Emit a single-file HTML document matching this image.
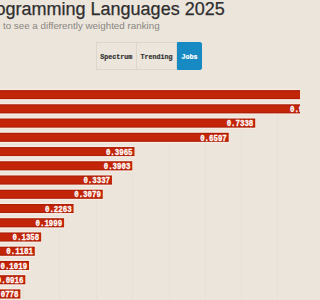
<!DOCTYPE html>
<html><head><meta charset="utf-8">
<style>
html,body{margin:0;padding:0;}
body{width:300px;height:300px;overflow:hidden;position:relative;background:#ebe5dc;font-family:"Liberation Sans",sans-serif;}
.title{position:absolute;right:75.3px;top:-2px;font-size:18px;color:#2e2e2e;-webkit-text-stroke:0.25px #2e2e2e;white-space:nowrap;line-height:22px;}
.sub{position:absolute;right:140.4px;top:20.2px;font-size:9.8px;color:#8a8680;white-space:nowrap;line-height:12px;}
.btns{position:absolute;left:95.5px;top:42px;height:28px;display:flex;}
.btn{font-family:"Liberation Mono",monospace;font-weight:bold;font-size:6.7px;color:#333;-webkit-text-stroke:0.2px currentColor;border:1px solid #ddd6cb;display:flex;align-items:center;justify-content:center;box-sizing:border-box;height:28px;padding-top:1px;}
.b1{width:41.5px;}
.b2{width:40px;border-left:none;}
.b3{width:25px;background:#178ac4;color:#fff;border-color:#178ac4;border-radius:0 2px 2px 0;}
svg{position:absolute;left:0;top:0;}
.lb{position:absolute;height:9px;line-height:9px;font-family:"Liberation Mono",monospace;font-weight:bold;font-size:7.4px;color:#fff;transform:scaleY(1.15);-webkit-text-stroke:0.25px #fff;white-space:nowrap;}
</style></head><body>
<div class="title">Top Programming Languages 2025</div>
<div class="sub">Click a button to see a differently weighted ranking</div>
<div class="btns"><div class="btn b1">Spectrum</div><div class="btn b2">Trending</div><div class="btn b3">Jobs</div></div>
<svg width="300" height="300" viewBox="0 0 300 300"><g stroke="rgba(60,40,20,0.022)" stroke-width="1"><line x1="23.5" y1="285.72" x2="23.5" y2="300"/><line x1="59.5" y1="228.76" x2="59.5" y2="300"/><line x1="96.5" y1="200.28" x2="96.5" y2="300"/><line x1="132.5" y1="171.80" x2="132.5" y2="300"/><line x1="169.5" y1="143.32" x2="169.5" y2="300"/><line x1="205.5" y1="143.32" x2="205.5" y2="300"/><line x1="241.5" y1="129.08" x2="241.5" y2="300"/><line x1="277.5" y1="114.84" x2="277.5" y2="300"/></g><g fill="rgba(255,238,228,0.75)"><rect x="-30" y="88.80" width="381.50" height="1.3"/><rect x="-30" y="99.10" width="381.50" height="1.3"/><rect x="-30" y="103.04" width="349.50" height="1.3"/><rect x="-30" y="113.34" width="349.50" height="1.3"/><rect x="-30" y="117.28" width="286.20" height="1.3"/><rect x="-30" y="127.58" width="286.20" height="1.3"/><rect x="-30" y="131.52" width="259.67" height="1.3"/><rect x="-30" y="141.82" width="259.67" height="1.3"/><rect x="-30" y="145.76" width="165.45" height="1.3"/><rect x="-30" y="156.06" width="165.45" height="1.3"/><rect x="-30" y="160.00" width="163.23" height="1.3"/><rect x="-30" y="170.30" width="163.23" height="1.3"/><rect x="-30" y="174.24" width="142.96" height="1.3"/><rect x="-30" y="184.54" width="142.96" height="1.3"/><rect x="-30" y="188.48" width="133.73" height="1.3"/><rect x="-30" y="198.78" width="133.73" height="1.3"/><rect x="-30" y="202.72" width="104.52" height="1.3"/><rect x="-30" y="213.02" width="104.52" height="1.3"/><rect x="-30" y="216.96" width="95.06" height="1.3"/><rect x="-30" y="227.26" width="95.06" height="1.3"/><rect x="-30" y="231.20" width="72.12" height="1.3"/><rect x="-30" y="241.50" width="72.12" height="1.3"/><rect x="-30" y="245.44" width="65.78" height="1.3"/><rect x="-30" y="255.74" width="65.78" height="1.3"/><rect x="-30" y="259.68" width="59.98" height="1.3"/><rect x="-30" y="269.98" width="59.98" height="1.3"/><rect x="-30" y="273.92" width="56.29" height="1.3"/><rect x="-30" y="284.22" width="56.29" height="1.3"/><rect x="-30" y="288.16" width="51.35" height="1.3"/><rect x="-30" y="298.46" width="51.35" height="1.3"/></g><g fill="#c32508"><rect x="-30" y="90.10" width="380.50" height="9.0"/><rect x="-30" y="104.34" width="348.50" height="9.0"/><rect x="-30" y="118.58" width="285.20" height="9.0"/><rect x="-30" y="132.82" width="258.67" height="9.0"/><rect x="-30" y="147.06" width="164.45" height="9.0"/><rect x="-30" y="161.30" width="162.23" height="9.0"/><rect x="-30" y="175.54" width="141.96" height="9.0"/><rect x="-30" y="189.78" width="132.73" height="9.0"/><rect x="-30" y="204.02" width="103.52" height="9.0"/><rect x="-30" y="218.26" width="94.06" height="9.0"/><rect x="-30" y="232.50" width="71.12" height="9.0"/><rect x="-30" y="246.74" width="64.78" height="9.0"/><rect x="-30" y="260.98" width="58.98" height="9.0"/><rect x="-30" y="275.22" width="55.29" height="9.0"/><rect x="-30" y="289.46" width="50.35" height="9.0"/></g><g fill="rgba(90,10,0,0.22)"><rect x="-30" y="90.10" width="380.50" height="1.1"/><rect x="-30" y="98.00" width="380.50" height="1.1"/><rect x="-30" y="104.34" width="348.50" height="1.1"/><rect x="-30" y="112.24" width="348.50" height="1.1"/><rect x="-30" y="118.58" width="285.20" height="1.1"/><rect x="-30" y="126.48" width="285.20" height="1.1"/><rect x="-30" y="132.82" width="258.67" height="1.1"/><rect x="-30" y="140.72" width="258.67" height="1.1"/><rect x="-30" y="147.06" width="164.45" height="1.1"/><rect x="-30" y="154.96" width="164.45" height="1.1"/><rect x="-30" y="161.30" width="162.23" height="1.1"/><rect x="-30" y="169.20" width="162.23" height="1.1"/><rect x="-30" y="175.54" width="141.96" height="1.1"/><rect x="-30" y="183.44" width="141.96" height="1.1"/><rect x="-30" y="189.78" width="132.73" height="1.1"/><rect x="-30" y="197.68" width="132.73" height="1.1"/><rect x="-30" y="204.02" width="103.52" height="1.1"/><rect x="-30" y="211.92" width="103.52" height="1.1"/><rect x="-30" y="218.26" width="94.06" height="1.1"/><rect x="-30" y="226.16" width="94.06" height="1.1"/><rect x="-30" y="232.50" width="71.12" height="1.1"/><rect x="-30" y="240.40" width="71.12" height="1.1"/><rect x="-30" y="246.74" width="64.78" height="1.1"/><rect x="-30" y="254.64" width="64.78" height="1.1"/><rect x="-30" y="260.98" width="58.98" height="1.1"/><rect x="-30" y="268.88" width="58.98" height="1.1"/><rect x="-30" y="275.22" width="55.29" height="1.1"/><rect x="-30" y="283.12" width="55.29" height="1.1"/><rect x="-30" y="289.46" width="50.35" height="1.1"/><rect x="-30" y="297.36" width="50.35" height="1.1"/></g></svg>
<div class="lb" style="top:91.80px;right:-48.60px">1.0000</div>
<div class="lb" style="top:106.04px;right:-16.60px">0.9054</div>
<div class="lb" style="top:120.28px;right:46.70px">0.7338</div>
<div class="lb" style="top:134.52px;right:73.23px">0.6597</div>
<div class="lb" style="top:148.76px;right:167.45px">0.3965</div>
<div class="lb" style="top:163.00px;right:169.67px">0.3903</div>
<div class="lb" style="top:177.24px;right:189.94px">0.3337</div>
<div class="lb" style="top:191.48px;right:199.17px">0.3079</div>
<div class="lb" style="top:205.72px;right:228.38px">0.2263</div>
<div class="lb" style="top:219.96px;right:237.84px">0.1999</div>
<div class="lb" style="top:234.20px;right:260.78px">0.1358</div>
<div class="lb" style="top:248.44px;right:267.12px">0.1181</div>
<div class="lb" style="top:262.68px;right:272.92px">0.1019</div>
<div class="lb" style="top:276.92px;right:276.61px">0.0916</div>
<div class="lb" style="top:291.16px;right:281.55px">0.0778</div>

</body></html>
